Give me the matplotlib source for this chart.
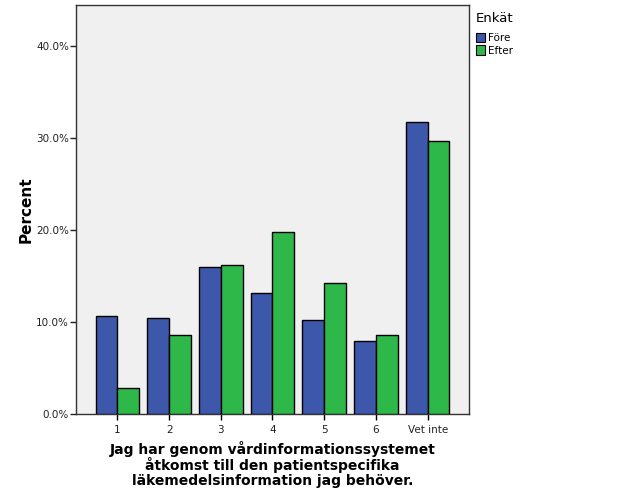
import matplotlib
matplotlib.use("Agg")
import matplotlib.pyplot as plt
from matplotlib.patches import Patch
from matplotlib.ticker import FuncFormatter

BLUE = "#3d57aa"
GREEN = "#2eb84a"
PANEL = "#f0f0f0"
INK = "#222222"

CATEGORIES = ["1", "2", "3", "4", "5", "6", "Vet inte"]
FORE = [10.6, 10.4, 16.0, 13.1, 10.2, 7.9, 31.7]
EFTER = [2.85, 8.6, 16.2, 19.8, 14.2, 8.6, 29.6]
SERIES = ["Före", "Efter"]
YTICKS = [0, 10, 20, 30, 40]

plt.rcParams["font.family"] = ["DejaVu Sans"]

fig = plt.figure(figsize=(6.26, 5.01), dpi=100)
ax = fig.add_axes([0.1214, 0.1737, 0.6278, 0.8163])
ax.set_facecolor(PANEL)

x = list(range(len(CATEGORIES)))
w = 0.42
ax.bar([i - w / 2 for i in x], FORE, width=w, color=BLUE, edgecolor="black", linewidth=1, zorder=3)
ax.bar([i + w / 2 for i in x], EFTER, width=w, color=GREEN, edgecolor="black", linewidth=1, zorder=3)

ax.set_xlim(-0.8, 6.8)
ax.set_ylim(0, 44.4)
ax.set_xticks(x)
ax.set_xticklabels(CATEGORIES, fontsize=7.5, color=INK)
ax.set_yticks(YTICKS)
ax.yaxis.set_major_formatter(FuncFormatter(lambda v, _: f"{v:.1f}%"))
ax.tick_params(axis="y", labelsize=7.5, colors=INK, length=4, width=1, pad=1)
ax.tick_params(axis="x", length=4, width=1, pad=4)

for s in ax.spines.values():
    s.set_color("#333333")
    s.set_linewidth(1)

ax.set_ylabel("Percent", fontsize=11, fontweight="bold", labelpad=2)
ax.set_xlabel("Jag har genom vårdinformationssystemet\nåtkomst till den patientspecifika\nläkemedelsinformation jag behöver.",
              fontsize=10, fontweight="bold", linespacing=1.05, labelpad=4)

handles = [Patch(facecolor=BLUE, edgecolor="black", linewidth=0.8),
           Patch(facecolor=GREEN, edgecolor="black", linewidth=0.8)]
leg = fig.legend(handles, SERIES, title="Enkät", loc="upper left",
                 bbox_to_anchor=(0.753, 0.985), frameon=False, fontsize=7.5,
                 title_fontsize=9.5, handlelength=0.9, handleheight=1.0,
                 handletextpad=0.3, labelspacing=0.2, borderaxespad=0)
leg._legend_box.align = "left"
leg._legend_box.sep = 6

fig.savefig("out.png", dpi=100)
